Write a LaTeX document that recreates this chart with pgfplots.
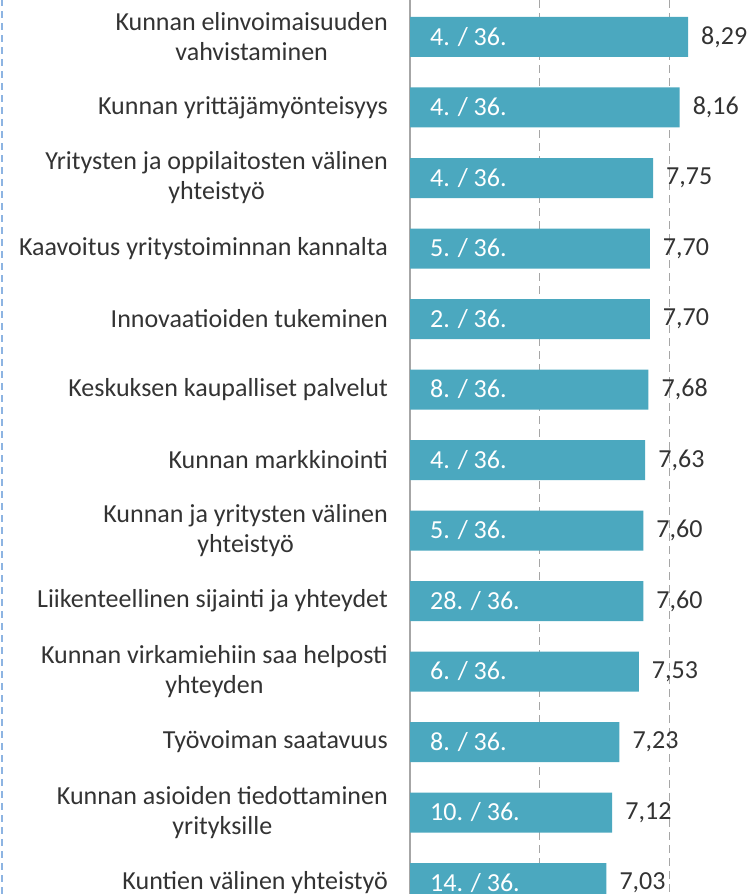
\documentclass[border=0pt]{standalone}
\usepackage{pgfplots}
\usepackage{pgfplotstable}
\pgfplotsset{compat=1.18}
\usepackage{fontspec}
\setmainfont{Carlito}
\definecolor{barc}{HTML}{4BA8BF}
\definecolor{txt}{HTML}{333333}
\definecolor{gridc}{HTML}{A6A6A6}
\definecolor{frame}{HTML}{8DB4E2}
\pgfplotstableread[col sep=semicolon,row sep=\\]{
idx;value;rank\\
0;8.29;4. / 36.\\
1;8.16;4. / 36.\\
2;7.75;4. / 36.\\
3;7.70;5. / 36.\\
4;7.70;2. / 36.\\
5;7.68;8. / 36.\\
6;7.63;4. / 36.\\
7;7.60;5. / 36.\\
8;7.60;28. / 36.\\
9;7.53;6. / 36.\\
10;7.23;8. / 36.\\
11;7.12;10. / 36.\\
12;7.03;14. / 36.\\
}\datatable
\begin{document}
\begin{tikzpicture}
\begin{axis}[
  at={(410pt,0pt)}, anchor=south west,
  scale only axis,
  width=341pt, height=894pt,
  xmin=4, xmax=9.262,
  ymin=-0.5248, ymax=12.156,
  y dir=reverse,
  clip=false,
  axis x line=bottom,
  axis y line=left,
  x axis line style={draw=none},
  y axis line style={draw=gridc, line width=1.2pt, -},
  xtick={6,8},
  xticklabels={},
  xmajorgrids,
  major grid style={draw=gridc, line width=1.3pt, dash pattern=on 8pt off 5pt},
  ytick={0,...,12},
  yticklabels={
    {Kunnan elinvoimaisuuden\\vahvistaminen},
    {Kunnan yrittäjämyönteisyys},
    {Yritysten ja oppilaitosten välinen\\yhteistyö},
    {Kaavoitus yritystoiminnan kannalta},
    {Innovaatioiden tukeminen},
    {Keskuksen kaupalliset palvelut},
    {Kunnan markkinointi},
    {Kunnan ja yritysten välinen\\yhteistyö},
    {Liikenteellinen sijainti ja yhteydet},
    {Kunnan virkamiehiin saa helposti\\yhteyden},
    {Työvoiman saatavuus},
    {Kunnan asioiden tiedottaminen\\yrityksille},
    {Kuntien välinen yhteistyö}},
  major tick length=0pt,
  yticklabel style={align=center, font=\fontsize{26}{30}\selectfont, text=txt, inner sep=0pt, xshift=-22pt},
]
\addplot[xbar, bar width=40pt, fill=barc, draw=none,
  nodes near coords,
  nodes near coords style={anchor=west, inner sep=0pt, xshift=13pt, text=txt, font=\fontsize{26}{30}\selectfont,
    /pgf/number format/.cd, fixed, fixed zerofill, precision=2, use comma, assume math mode=true},
] table[x=value, y=idx] {\datatable};
\addplot[draw=none, mark=none,
  nodes near coords, point meta=explicit symbolic,
  nodes near coords style={anchor=west, inner sep=0pt, xshift=20pt, text=white, font=\fontsize{26}{30}\selectfont},
] table[x expr=4, y=idx, meta=rank] {\datatable};
\end{axis}
\draw[frame, line width=2pt, dash pattern=on 7pt off 5pt] (1.5pt,0pt) -- (1.5pt,894pt);
\pgfresetboundingbox
\useasboundingbox (0pt,0pt) rectangle (751pt,894pt);
\end{tikzpicture}
\end{document}
